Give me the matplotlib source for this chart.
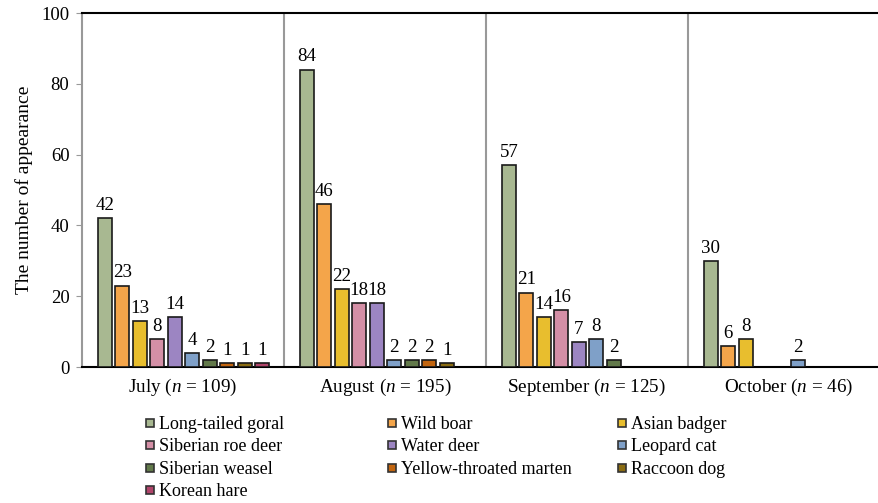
import matplotlib
matplotlib.use("Agg")
import matplotlib.pyplot as plt
from matplotlib.lines import Line2D
import numpy as np

plt.rcParams['font.family'] = ['Liberation Serif', 'DejaVu Serif']
plt.rcParams['mathtext.fontset'] = 'custom'
plt.rcParams['mathtext.rm'] = 'Liberation Serif'
plt.rcParams['mathtext.it'] = 'Liberation Serif:italic'

months = ["July", "August", "September", "October"]
month_n = [109, 195, 125, 46]
species = ["Long-tailed goral", "Wild boar", "Asian badger", "Siberian roe deer",
           "Water deer", "Leopard cat", "Siberian weasel", "Yellow-throated marten",
           "Raccoon dog", "Korean hare"]
colors = ["#a8b891", "#f4a54a", "#e8be2e", "#d48fa6", "#9c85c2",
          "#7fa0c8", "#62794a", "#c2650f", "#8a6c12", "#b0446a"]
# values[species][month]
goral = [42, 84, 57, 30]
boar = [23, 46, 21, 6]
badger = [13, 22, 14, 8]
roe_deer = [8, 18, 16, 0]
water_deer = [14, 18, 7, 0]
leopard_cat = [4, 2, 8, 2]
weasel = [2, 2, 2, 0]
marten = [1, 2, 0, 0]
raccoon = [1, 1, 0, 0]
hare = [1, 0, 0, 0]
values = [goral, boar, badger, roe_deer, water_deer, leopard_cat, weasel, marten, raccoon, hare]
yticks = [0, 20, 40, 60, 80, 100]

W, H = 879, 503
fig = plt.figure(figsize=(W / 100, H / 100), dpi=100)
left, right, bottom, top = 82, 890, 367, 13
ax = fig.add_axes([left / W, (H - bottom) / H, (right - left) / W, (bottom - top) / H])
ax.set_xlim(0, 4)
ax.set_ylim(0, 100)

pitch = 0.0866
width = 0.0708
start = 0.0777
for si, (vals, c) in enumerate(zip(values, colors)):
    for mi, v in enumerate(vals):
        if v <= 0:
            continue
        x = mi + start + si * pitch + width / 2
        ax.bar(x, v, width=width, color=c, edgecolor="#1a1a1a", linewidth=1.2, zorder=3)
        ax.annotate(str(v), (x, v), xytext=(0, 3), textcoords="offset points",
                    ha="center", va="bottom", fontsize=13.6, zorder=4)

for sep in [1, 2, 3]:
    ax.axvline(sep, color="#999999", linewidth=1.5, zorder=1)

for s in ["right"]:
    ax.spines[s].set_visible(False)
ax.spines["top"].set_color("black")
ax.spines["top"].set_linewidth(1.5)
ax.spines["bottom"].set_color("black")
ax.spines["bottom"].set_linewidth(1.5)
ax.spines["left"].set_color("#999999")
ax.spines["left"].set_linewidth(1.5)

ax.set_yticks(yticks)
ax.set_yticklabels([str(t) for t in yticks], fontsize=13.5)
ax.tick_params(axis="y", direction="out", length=4, color="#999999", pad=5)
ax.set_xticks([i + 0.5 for i in range(4)])
ax.set_xticklabels([f"{m} ($n$ = {n})" for m, n in zip(months, month_n)], fontsize=13.8)
ax.tick_params(axis="x", length=0, pad=7)
ax.set_ylabel("The number of appearance", fontsize=14, labelpad=6)

# legend: three columns, row-major order
col_x = [145, 387, 617]
row_groups = [[0, 3, 6, 9], [1, 4, 7], [2, 5, 8]]
for cx, idxs in zip(col_x, row_groups):
    handles = [Line2D([], [], marker="s", linestyle="none", markersize=6,
                      markerfacecolor=colors[i], markeredgecolor="#333333",
                      markeredgewidth=1.2, label=species[i]) for i in idxs]
    fig.legend(handles=handles, loc="upper left", bbox_to_anchor=(cx / W, 1 - 416 / H),
               frameon=False, fontsize=13, handlelength=0.6, handletextpad=0.2,
               labelspacing=0.3, borderpad=0, borderaxespad=0)

fig.savefig("out.png", dpi=100)
